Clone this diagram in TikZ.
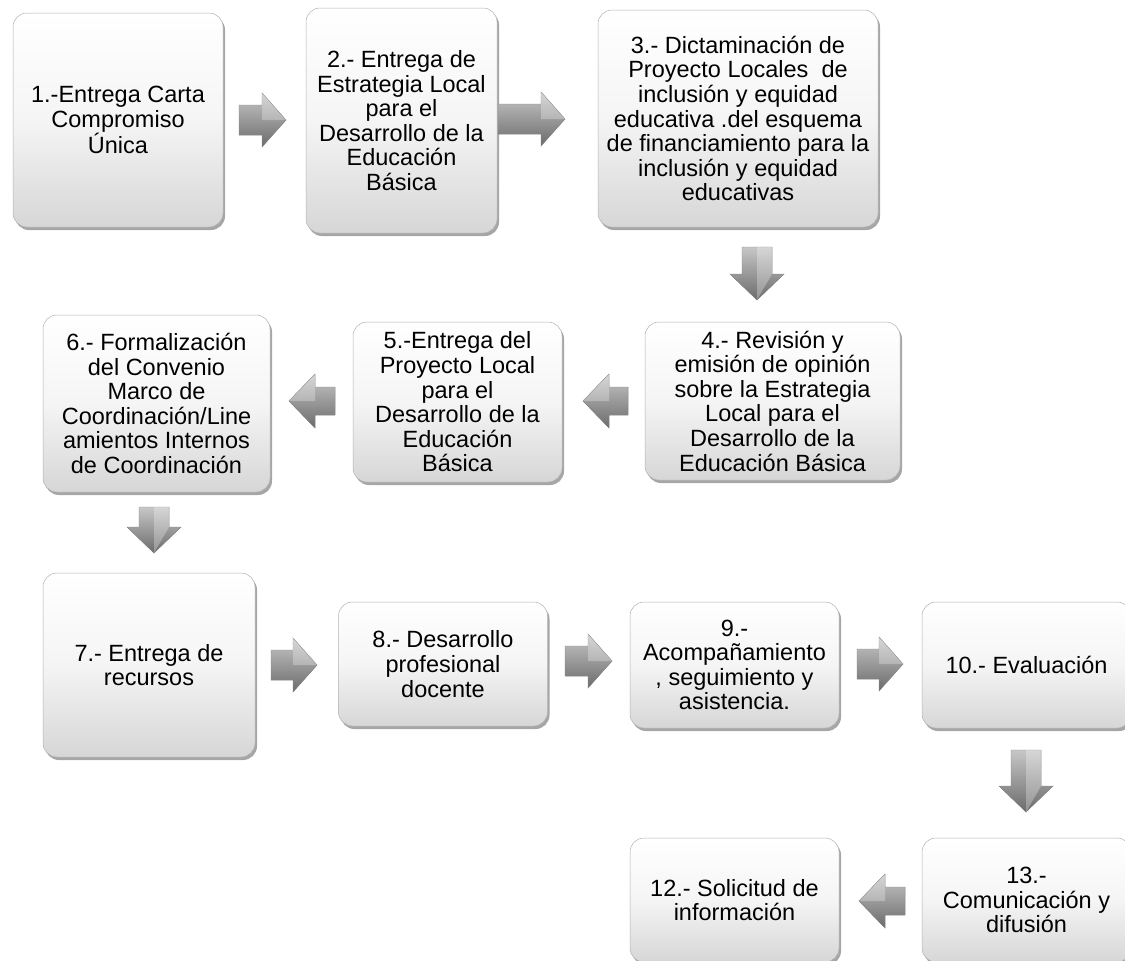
\documentclass[tikz,border=0pt]{standalone}
\usepackage{fontspec}
\setmainfont{Liberation Sans}
\usetikzlibrary{shadows}
\tikzset{
  stagebox/.style={rounded corners=14pt, draw=black!30, line width=0.5pt,
    top color=white, bottom color=black!16, middle color=black!4,
    drop shadow={shadow xshift=2pt, shadow yshift=-3pt, fill=black, opacity=0.35},
    align=center, inner sep=2pt,
    font=\fontsize{23.5}{24.6}\selectfont, text=black},
  blockarrow/.style={top color=black!22, bottom color=black!58, draw=black!45, line width=0.4pt},
  arrowshine/.style={fill=white, opacity=0.28}
}
% right arrow: tail x, tip x, centre y
\newcommand{\arrR}[3]{%
  \fill[blockarrow] (#1,#3-15) -- (#2-24,#3-15) -- (#2-24,#3-27) -- (#2,#3) -- (#2-24,#3+27) -- (#2-24,#3+15) -- (#1,#3+15) -- cycle;
  \fill[arrowshine] (#2-24,#3-27) -- (#2,#3) -- (#2-24,#3) -- cycle;}
% left arrow: tail x, tip x, centre y
\newcommand{\arrL}[3]{%
  \fill[blockarrow] (#1,#3-14) -- (#2+26,#3-14) -- (#2+26,#3-27) -- (#2,#3) -- (#2+26,#3+27) -- (#2+26,#3+14) -- (#1,#3+14) -- cycle;
  \fill[arrowshine] (#2+26,#3-27) -- (#2,#3) -- (#2+26,#3) -- cycle;}
% down arrow: centre x, tail y, tip y
\newcommand{\arrD}[3]{%
  \fill[blockarrow] (#1-15,#2) -- (#1+15,#2) -- (#1+15,#3-26) -- (#1+27,#3-26) -- (#1,#3) -- (#1-27,#3-26) -- (#1-15,#3-26) -- cycle;
  \fill[arrowshine] (#1,#2) -- (#1+15,#2) -- (#1+15,#3-26) -- (#1,#3) -- cycle;}
\begin{document}
\begin{tikzpicture}[x=1pt, y=-1pt]
\useasboundingbox[fill=white] (0,0) rectangle (1125,961);

% row 1
\node[stagebox, minimum width=210pt, minimum height=214pt] (b1) at (118,120)
  {1.-Entrega Carta\\Compromiso\\Única};
\node[stagebox, minimum width=191pt, minimum height=225pt] (b2) at (401.5,120.5)
  {2.- Entrega de\\Estrategia Local\\para el\\Desarrollo de la\\Educación\\Básica};
\node[stagebox, minimum width=280pt, minimum height=217pt] (b3) at (738,118.5)
  {3.- Dictaminación de\\Proyecto Locales\ \ de\\inclusión y equidad\\educativa .del esquema\\de financiamiento para la\\inclusión y equidad\\educativas};

% row 2
\node[stagebox, minimum width=255pt, minimum height=158pt] (b4) at (772.5,401)
  {4.- Revisión y\\emisión de opinión\\sobre la Estrategia\\Local para el\\Desarrollo de la\\Educación Básica};
\node[stagebox, minimum width=209pt, minimum height=160pt] (b5) at (457.5,402)
  {5.-Entrega del\\Proyecto Local\\para el\\Desarrollo de la\\Educación\\Básica};
\node[stagebox, minimum width=227pt, minimum height=177pt] (b6) at (156.5,403.5)
  {6.- Formalización\\del Convenio\\Marco de\\Coordinación/Line\\amientos Internos\\de Coordinación};

% row 3
\node[stagebox, minimum width=212pt, minimum height=184pt] (b7) at (149,665)
  {7.- Entrega de\\recursos};
\node[stagebox, minimum width=209pt, minimum height=124pt] (b8) at (443,664)
  {8.- Desarrollo\\profesional\\docente};
\node[stagebox, minimum width=209pt, minimum height=126pt] (b9) at (734.5,665)
  {9.-\\Acompañamiento\\, seguimiento y\\asistencia.};
\node[stagebox, minimum width=209pt, minimum height=126pt] (b10) at (1026.5,665)
  {10.- Evaluación};

% row 4
\node[stagebox, minimum width=209pt, minimum height=124pt] (b12) at (734.5,900)
  {12.- Solicitud de\\información};
\node[stagebox, minimum width=209pt, minimum height=124pt] (b13) at (1026.5,900)
  {13.-\\Comunicación y\\difusión};

% block arrows between stages
\arrR{239}{286}{120}
\arrR{498}{565}{119}
\arrD{757}{247}{300}
\arrL{628}{583}{401}
\arrL{335}{289}{401}
\arrD{154}{507}{553}
\arrR{271}{317}{665}
\arrR{565}{612}{661}
\arrR{857}{903}{664}
\arrD{1026}{750}{812}
\arrL{905}{859}{901}
\end{tikzpicture}
\end{document}
